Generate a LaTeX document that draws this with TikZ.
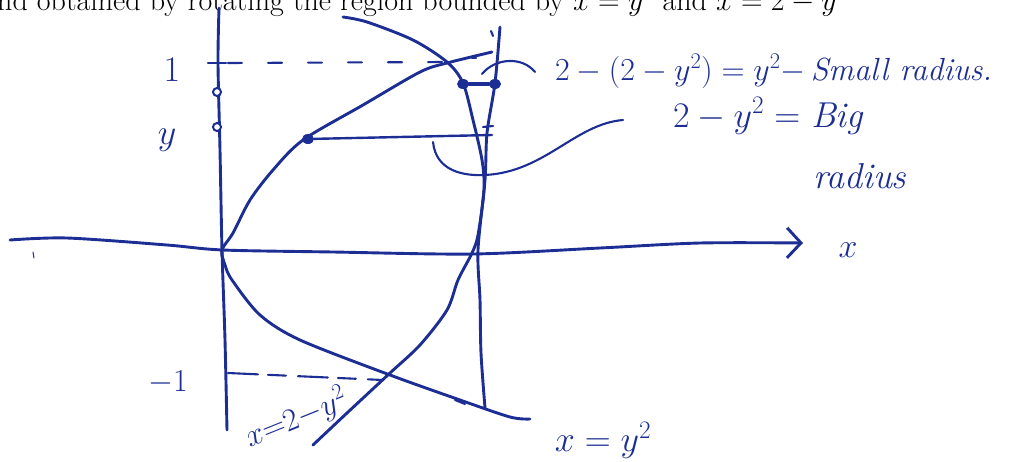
\documentclass[tikz,border=0pt]{standalone}
\usepackage{fix-cm}
\usepackage{amsmath}
\usepackage{fontspec}
\usepackage{xcolor}
\usepackage{tikz}
\usetikzlibrary{arrows.meta, shapes.geometric}
\definecolor{inkColor}{HTML}{1C2D94}

\tikzset{
  ink/.style={inkColor, line width=2.9pt, line cap=round, line join=round},
  thinink/.style={inkColor, line width=2.1pt, line cap=round},
  hand/.style={inkColor, inner sep=0pt},
  inkdot/.style={ellipse, fill=inkColor, inner sep=0pt, minimum width=12pt, minimum height=10pt},
  opendot/.style={circle, draw=inkColor, fill=white, line width=2pt, inner sep=0pt, minimum size=8pt},
}

\begin{document}
\begin{tikzpicture}[x=1pt, y=-1pt]
    \useasboundingbox (0,0) rectangle (1015,461);
    % printed line of the exercise, cut by the page edge
    \node[anchor=base west, inner sep=0pt, font=\fontsize{30}{32}\selectfont] (task) at (-3,10)
        {nd obtained by rotating the region bounded by $x = y^2$ and $x = 2 - y^2$};

    % axes and the line x = 2
    \draw[ink, -{Straight Barb[length=14pt, width=30pt]}] plot[smooth] coordinates
        {(10,240) (67,238) (167,245) (223,250) (333,252) (473,254) (600,248) (700,243) (803,243)};
    \draw[ink] plot[smooth] coordinates {(219,8) (218,63) (220,150) (222,250) (225,340) (227,430)};
    \draw[ink] plot[smooth] coordinates {(500,27) (495,83) (487,133) (485,180) (478,250) (480,300) (481,353) (485,408)};
    \draw[thinink, line width=1pt] (33,252) -- (34,258);

    % x = y^2
    \draw[ink] plot[smooth] coordinates {(492,52) (447,63) (420,72) (363,105) (303,140) (273,170) (250,200)
        (233,233) (222,250) (225,265) (232,280) (260,315) (300,340) (390,375) (460,400) (510,417) (530,419)};
    % x = 2 - y^2
    \draw[ink] plot[smooth] coordinates {(343,17) (367,22) (413,40) (447,62) (463,83) (473,120) (482,160)
        (484,190) (478,235) (472,253) (458,280) (447,310) (420,345) (390,373) (347,413) (313,445)};

    % y = 1 and y = -1
    \draw[thinink, dash pattern=on 14pt off 26pt] (228,63) -- (445,62);
    \draw[thinink] (208,63) -- (226,63);
    \draw[thinink, dash pattern=on 30pt off 10pt on 18pt off 12pt] (228,373) -- (383,380);

    % marks on the y-axis
    \node[opendot] (ya) at (217,92) {};
    \node[opendot] (yb) at (217,127) {};

    % the strip at height y
    \node[inkdot] (ypt) at (308,139) {};
    \coordinate (yend) at (492,135);
    \draw[ink, line width=2.4pt] (ypt) -- (yend);
    \draw[thinink] (483,127) -- (493,126);

    % small radius
    \node[inkdot] (sa) at (463,84) {};
    \node[inkdot] (sb) at (495,84) {};
    \draw[ink, line width=3.6pt] (sa) -- (sb);
    \draw[thinink] (472,58) -- (476,58);
    \draw[thinink] (491,31) -- (493,36);
    \draw[thinink] (455,400) -- (465,404);

    % labels
    \node[hand, anchor=base west, font=\fontsize{32}{34}\selectfont] (smallR) at (555,80)
        {$2-(2-y^2)=y^2-$\,\textit{Small radius.}};
    \node[hand, anchor=base west, font=\fontsize{36}{38}\selectfont] (bigR) at (673,127)
        {$2-y^2=$ \textit{Big}};
    \node[hand, anchor=base west, font=\fontsize{36}{38}\selectfont] (bigRb) at (813,188) {\textit{radius}};
    \node[hand, font=\fontsize{36}{38}\selectfont] (one) at (172,70) {$1$};
    \node[hand, font=\fontsize{36}{38}\selectfont] (ylab) at (167,140) {$y$};
    \node[hand, font=\fontsize{32}{34}\selectfont] (mone) at (168,383) {$-1$};
    \node[hand, font=\fontsize{34}{36}\selectfont] (xlab) at (848,250) {$x$};
    \node[hand, font=\fontsize{32}{34}\selectfont, rotate=22] (lblA) at (296,418) {$x{=}2{-}y^2$};
    \node[hand, font=\fontsize{36}{38}\selectfont] (lblB) at (603,440) {$x=y^2$};

    % leaders to the labels
    \coordinate (la) at (482,74);
    \coordinate (laEnd) at (535,72);
    \draw[thinink] (la) .. controls (495,58) and (522,56) .. (laEnd);
    \coordinate (lb) at (433,142);
    \coordinate (lbEnd) at (623,120);
    \draw[thinink] (lb) .. controls (436,172) and (465,176) .. (485,175)
        .. controls (545,172) and (575,124) .. (lbEnd);
\end{tikzpicture}
\end{document}
